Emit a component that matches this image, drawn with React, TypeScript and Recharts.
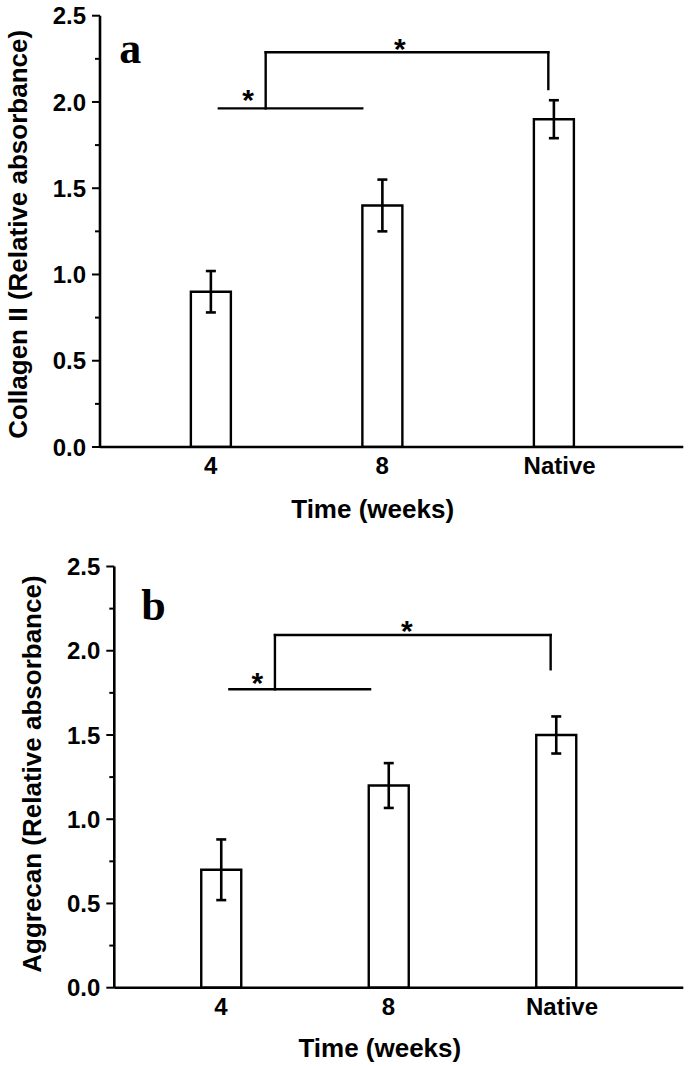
import React from 'react';
import { BarChart, Bar, XAxis, YAxis, ErrorBar, ReferenceLine, ReferenceDot, Label } from 'recharts';

// ---------- data ----------
const categories = ['4', '8', 'Native'];
const categoryPositions = [1, 2, 3];

const collagenValues = [0.9, 1.4, 1.9];
const collagenErrors = [0.12, 0.15, 0.11];

const aggrecanValues = [0.7, 1.2, 1.5];
const aggrecanErrors = [0.18, 0.133, 0.11];

const yMajorTicks = [0, 0.5, 1, 1.5, 2, 2.5];
const yAllTicks = [0, 0.25, 0.5, 0.75, 1, 1.25, 1.5, 1.75, 2, 2.25, 2.5];

// significance brackets: segments [[x1,y1],[x2,y2]] in data units
const collagenBracket = [
  [[1.048, 1.963], [1.884, 1.963]],
  [[1.321, 1.963], [1.321, 2.288]],
  [[1.321, 2.288], [2.969, 2.288]],
  [[2.969, 2.288], [2.969, 2.075]],
];
const collagenStars = [[1.219, 2.05], [2.104, 2.35]];

const aggrecanBracket = [
  [[1.05, 1.771], [1.89, 1.771]],
  [[1.322, 1.771], [1.322, 2.093]],
  [[1.322, 2.093], [2.968, 2.093]],
  [[2.968, 2.093], [2.968, 1.89]],
];
const aggrecanStars = [[1.217, 1.852], [2.109, 2.157]];

const collagenData = categoryPositions.map((x, i) => ({ x, name: categories[i], value: collagenValues[i], err: collagenErrors[i] }));
const aggrecanData = categoryPositions.map((x, i) => ({ x, name: categories[i], value: aggrecanValues[i], err: aggrecanErrors[i] }));

const FONT = "'Liberation Sans', Arial, Helvetica, sans-serif";
const SERIF = "'Liberation Serif', 'Times New Roman', serif";

const YTick = (props: any) => {
  const { x, y, payload } = props;
  const major = yMajorTicks.includes(payload.value);
  return (
    <g>
      <line x1={x - (major ? 8 : 5)} x2={x} y1={y} y2={y} stroke="#000" strokeWidth={2} />
      {major && (
        <text x={x - 14} y={y} dy="0.36em" textAnchor="end" fontFamily={FONT} fontWeight="bold" fontSize={24} fill="#000">
          {payload.value.toFixed(1)}
        </text>
      )}
    </g>
  );
};

const XTick = (props: any) => {
  const { x, y, payload } = props;
  const idx = categoryPositions.indexOf(payload.value);
  return (
    <text x={x + (idx === 2 ? 6 : 0)} y={y + 27} textAnchor="middle" fontFamily={FONT} fontWeight="bold" fontSize={24} fill="#000">
      {categories[idx]}
    </text>
  );
};

type PanelProps = {
  data: any[];
  yLabel: string;
  letter: string;
  letterPos: number[];
  bracket: number[][][];
  stars: number[][];
  margin: any;
  yAxisWidth: number;
  xAxisHeight: number;
  xDomain: number[];
  yLabelDy: number;
  xLabelDy: number;
};

const Panel = (p: PanelProps) => {
  const renderYLabel = (props: any) => {
    const vb = props.viewBox || {};
    const bx = vb.x + vb.width - 73;
    const cy = vb.y + vb.height / 2 + p.yLabelDy;
    return (
      <text x={bx} y={cy} transform={`rotate(-90, ${bx}, ${cy})`} textAnchor="middle" fontFamily={FONT} fontWeight="bold" fontSize={26} fill="#000">
        {p.yLabel}
      </text>
    );
  };
  const renderXLabel = (props: any) => {
    const vb = props.viewBox || {};
    return (
      <text x={vb.x + vb.width / 2 - 19} y={vb.y + p.xLabelDy} textAnchor="middle" fontFamily={FONT} fontWeight="bold" fontSize={26} fill="#000">
        Time (weeks)
      </text>
    );
  };
  return (
    <BarChart width={690} height={533} data={p.data} margin={p.margin}>
      <XAxis
        dataKey="x"
        type="number"
        domain={p.xDomain}
        ticks={categoryPositions}
        interval={0}
        tickSize={0}
        tickMargin={0}
        tickLine={false}
        tick={<XTick />}
        height={p.xAxisHeight}
        axisLine={{ stroke: '#000', strokeWidth: 2.6 }}
        allowDataOverflow
      >
        <Label content={renderXLabel} />
      </XAxis>
      <XAxis
        xAxisId="top"
        orientation="top"
        dataKey="x"
        type="number"
        domain={p.xDomain}
        tick={false}
        tickLine={false}
        height={0}
        axisLine={{ stroke: '#000', strokeWidth: 2.4 }}
        allowDataOverflow
      />
      <YAxis
        type="number"
        domain={[0, 2.5]}
        ticks={yAllTicks}
        interval={0}
        tickSize={0}
        tickMargin={0}
        tickLine={false}
        tick={<YTick />}
        width={p.yAxisWidth}
        axisLine={{ stroke: '#000', strokeWidth: 2.6 }}
        allowDataOverflow
      >
        <Label content={renderYLabel} />
      </YAxis>
      <YAxis
        yAxisId="right"
        orientation="right"
        type="number"
        domain={[0, 2.5]}
        tick={false}
        tickLine={false}
        width={0}
        axisLine={{ stroke: '#000', strokeWidth: 2.4 }}
      />
      <Bar dataKey="value" barSize={40} fill="#fff" stroke="#000" strokeWidth={2.4} isAnimationActive={false}>
        <ErrorBar dataKey="err" width={5} strokeWidth={2.6} stroke="#000" direction="y" />
      </Bar>
      {p.bracket.map((seg, i) => (
        <ReferenceLine
          key={`b${i}`}
          segment={[{ x: seg[0][0], y: seg[0][1] }, { x: seg[1][0], y: seg[1][1] }]}
          stroke="#000"
          strokeWidth={2.4}
          strokeLinecap="square"
          ifOverflow="visible"
        />
      ))}
      {p.stars.map((s, i) => (
        <ReferenceDot
          key={`s${i}`}
          x={s[0]}
          y={s[1]}
          r={0}
          ifOverflow="visible"
          shape={(sp: any) => (
            <text x={sp.cx} y={sp.cy + 17} textAnchor="middle" fontFamily={FONT} fontWeight="bold" fontSize={30} fill="#000">
              *
            </text>
          )}
        />
      ))}
      <ReferenceDot
        x={p.letterPos[0]}
        y={p.letterPos[1]}
        r={0}
        ifOverflow="visible"
        shape={(sp: any) => (
          <text x={sp.cx} y={sp.cy} textAnchor="middle" fontFamily={SERIF} fontWeight="bold" fontSize={44} fill="#000">
            {p.letter}
          </text>
        )}
      />
    </BarChart>
  );
};

export default function App() {
  return (
    <div style={{ position: 'absolute', left: 0, top: 0, width: 690, height: 1066, background: '#fff' }}>
      <Panel
        data={collagenData}
        yLabel="Collagen II (Relative absorbance)"
        letter="a"
        letterPos={[0.532, 2.226]}
        bracket={collagenBracket}
        stars={collagenStars}
        margin={{ top: 15.7, right: 6.7, left: 0, bottom: 0 }}
        yAxisWidth={100}
        xAxisHeight={86}
        xDomain={[0.355, 3.756]}
        yLabelDy={3}
        xLabelDy={71}
      />
      <Panel
        data={aggrecanData}
        yLabel="Aggrecan (Relative absorbance)"
        letter="b"
        letterPos={[0.597, 2.182]}
        bracket={aggrecanBracket}
        stars={aggrecanStars}
        margin={{ top: 33.5, right: 6.7, left: 0, bottom: 0 }}
        yAxisWidth={114.3}
        xAxisHeight={78.3}
        xDomain={[0.363, 3.76]}
        yLabelDy={-3}
        xLabelDy={69}
      />
    </div>
  );
}
